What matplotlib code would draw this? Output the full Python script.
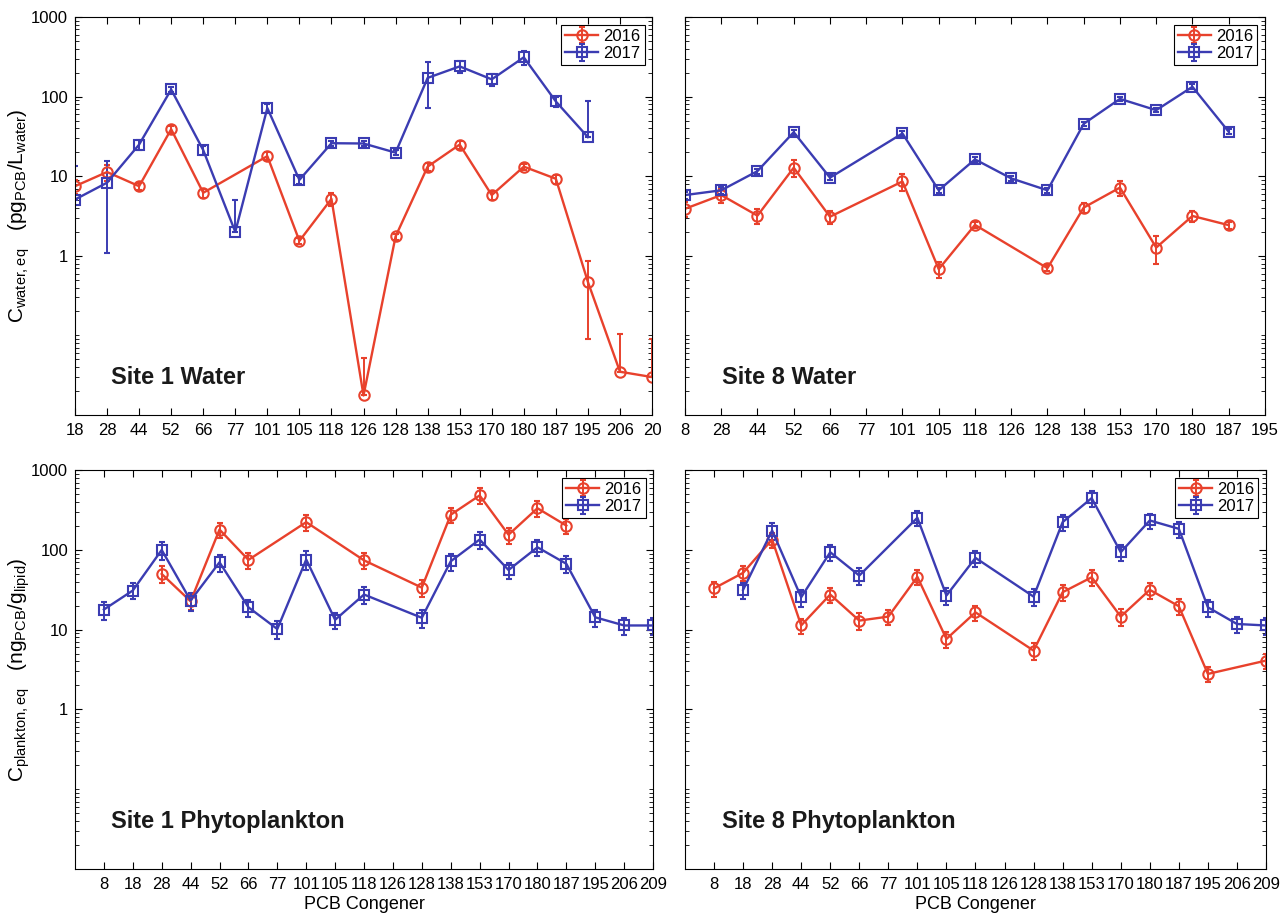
import numpy as np
import matplotlib
matplotlib.use('Agg')
import matplotlib.pyplot as plt
from matplotlib.ticker import FixedLocator, LogLocator, NullFormatter

plt.rcParams['font.family'] = ['Liberation Sans', 'DejaVu Sans']
plt.rcParams['mathtext.default'] = 'regular'

nan = np.nan
RED = '#E8412C'
BLUE = '#3B3CB2'

# --- water panels (pg PCB / L water) ---
water1_labels = ['18', '28', '44', '52', '66', '77', '101', '105', '118', '126',
                 '128', '138', '153', '170', '180', '187', '195', '206', '20']
water1_2016 = [7.5, 11.3, 7.5, 39, 6.2, nan, 17.9, 1.54, 5.2, 0.0176,
               1.75, 13.2, 25, 5.8, 13.2, 9.3, 0.47, 0.035, 0.030]
water1_2016_err = [1.5, 2.5, 0.8, 4, 0.8, nan, 2, 0.15, 1.0, 0.034,
                   0.15, 1.5, 3, 0.8, 1.2, 1.2, 0.38, 0.07, 0.06]
water1_2017 = [5.1, 8.3, 25, 123, 21.3, 2.0, 72, 9.0, 26, 25.8,
               19.8, 172, 240, 165, 312, 87, 31, nan, nan]
water1_2017_err = [8.3, 7.2, 3.5, 10, 3, 3.0, 10, 1, 2, 2,
                   1.5, 100, 40, 30, 60, 12, 56, nan, nan]

water8_labels = ['8', '28', '44', '52', '66', '77', '101', '105', '118', '126',
                 '128', '138', '153', '170', '180', '187', '195']
water8_2016 = [3.9, 5.8, 3.2, 12.8, 3.1, nan, 8.6, 0.68, 2.45, nan,
               0.70, 4.04, 7.2, 1.27, 3.17, 2.43, nan]
water8_2016_err = [0.8, 1.2, 0.7, 3, 0.6, nan, 2, 0.15, 0.2, nan,
                   0.06, 0.6, 1.5, 0.48, 0.5, 0.25, nan]
water8_2017 = [5.8, 6.66, 11.6, 35.8, 9.6, nan, 34.5, 6.66, 16.3, 9.4,
               6.66, 45.6, 93.8, 67.6, 133, 36.2, nan]
water8_2017_err = [0.6, 0.7, 0.8, 2.5, 0.7, nan, 2.2, 0.5, 1, 0.6,
                   0.5, 3, 6, 4, 10, 2.5, nan]

# --- phytoplankton panels (ng PCB / g lipid) ---
phyto_labels = ['8', '18', '28', '44', '52', '66', '77', '101', '105', '118',
                '126', '128', '138', '153', '170', '180', '187', '195', '206', '209']
phyto1_2016 = [nan, nan, 50, 22.7, 180, 75, nan, 223, nan, 74,
               nan, 33.7, 276, 482, 155, 333, 202, nan, nan, nan]
phyto1_2016_err = [nan, nan, 12, 5, 40, 17, nan, 50, nan, 17,
                   nan, 8, 60, 110, 35, 75, 45, nan, nan, nan]
phyto1_2017 = [17.9, 31, 100, 23.2, 70, 19.1, 10.2, 75.8, 13.3, 27.6,
               nan, 14.1, 72, 135, 56, 108, 67, 14.3, 11.3, 11.3]
phyto1_2017_err = [4.5, 7, 25, 6, 17, 4.5, 2.5, 20, 3, 6.5,
                   nan, 3.5, 17, 32, 13, 25, 16, 3.5, 2.7, 2.7]

phyto8_2016 = [33, 51.6, 135, 11.3, 27.6, 13, 14.6, 46, 7.66, 16.5,
               nan, 5.47, 29.5, 45.4, 14.6, 31.6, 19.7, 2.79, nan, 4.1]
phyto8_2016_err = [7, 11, 30, 2.5, 6, 3, 3, 10, 1.8, 3.5,
                   nan, 1.3, 6.5, 10, 3.5, 7, 4.5, 0.6, nan, 0.9]
phyto8_2017 = [nan, 31.6, 175, 25.5, 93.6, 47.7, nan, 253, 26.8, 79.5,
               nan, 26, 223, 446, 93.6, 234, 184, 19.1, 11.8, 11.3]
phyto8_2017_err = [nan, 7, 40, 6, 22, 11, nan, 55, 6.5, 18,
                   nan, 6, 50, 100, 22, 52, 42, 4.5, 2.7, 2.7]


def plot_series(ax, vals, errs, color, marker, label):
    x = np.arange(1, len(vals) + 1)
    v = np.array(vals, float)
    e = np.array(errs, float)
    ok = ~np.isnan(v)
    # like MATLAB on a log axis: a lower bar that would go below zero is not drawn
    lower = np.where(v - e > 0, e, 0)
    return ax.errorbar(x[ok], v[ok], yerr=[lower[ok], e[ok]], color=color,
                       marker=marker, mfc='none', ms=7.5, mew=1.5, lw=1.7,
                       capsize=2.5, elinewidth=1.4, capthick=1.4, label=label)


def setup_axes(ax, labels, xlim, show_y, title, title_y):
    ax.set_yscale('log')
    ax.set_ylim(0.01, 1000)
    ax.set_xlim(*xlim)
    ax.set_xticks(np.arange(1, len(labels) + 1))
    ax.set_xticklabels(labels)
    ax.yaxis.set_major_locator(FixedLocator([1, 10, 100, 1000]))
    ax.yaxis.set_minor_locator(LogLocator(base=10, subs=np.arange(1, 10), numticks=30))
    ax.yaxis.set_minor_formatter(NullFormatter())
    if show_y:
        ax.set_yticklabels(['1', '10', '100', '1000'])
    else:
        ax.tick_params(labelleft=False)
    ax.tick_params(which='both', direction='in', top=True, right=True)
    ax.tick_params(which='major', length=5, width=0.8, labelsize=12)
    ax.tick_params(axis='x', pad=6)
    ax.tick_params(axis='y', pad=5)
    ax.tick_params(which='minor', length=3, width=0.6)
    for s in ax.spines.values():
        s.set_linewidth(0.8)
    ax.text(0.063, title_y, title, transform=ax.transAxes, fontsize=17,
            fontweight='bold', va='center', color='#1a1a1a')
    leg = ax.legend(loc='upper right', fontsize=12, fancybox=False, edgecolor='black',
                    framealpha=1, borderpad=0.25, labelspacing=0.15, handlelength=2.0,
                    handletextpad=0.3, borderaxespad=0.45)
    leg.get_frame().set_linewidth(0.8)


fig = plt.figure(figsize=(12.82, 9.17), dpi=100)
ax_tl = fig.add_axes([0.0585, 0.5474, 0.4501, 0.434])
ax_tr = fig.add_axes([0.5343, 0.5474, 0.4524, 0.434])
ax_bl = fig.add_axes([0.0585, 0.0523, 0.4509, 0.435])
ax_br = fig.add_axes([0.5343, 0.0523, 0.4532, 0.435])

plot_series(ax_tl, water1_2016, water1_2016_err, RED, 'o', '2016')
plot_series(ax_tl, water1_2017, water1_2017_err, BLUE, 's', '2017')
setup_axes(ax_tl, water1_labels, (1, 19), True, 'Site 1 Water', 0.095)

plot_series(ax_tr, water8_2016, water8_2016_err, RED, 'o', '2016')
plot_series(ax_tr, water8_2017, water8_2017_err, BLUE, 's', '2017')
setup_axes(ax_tr, water8_labels, (1, 17), False, 'Site 8 Water', 0.095)

plot_series(ax_bl, phyto1_2016, phyto1_2016_err, RED, 'o', '2016')
plot_series(ax_bl, phyto1_2017, phyto1_2017_err, BLUE, 's', '2017')
setup_axes(ax_bl, phyto_labels, (0, 20), True, 'Site 1 Phytoplankton', 0.12)

plot_series(ax_br, phyto8_2016, phyto8_2016_err, RED, 'o', '2016')
plot_series(ax_br, phyto8_2017, phyto8_2017_err, BLUE, 's', '2017')
setup_axes(ax_br, phyto_labels, (0, 20), False, 'Site 8 Phytoplankton', 0.12)

ax_tl.set_ylabel(r'$C_{water,eq}$   (pg$_{PCB}$/L$_{water}$)', fontsize=15)
ax_tl.yaxis.set_label_coords(-0.074, 0.5)
ax_bl.set_ylabel(r'$C_{plankton,eq}$   (ng$_{PCB}$/g$_{lipid}$)', fontsize=15)
ax_bl.yaxis.set_label_coords(-0.074, 0.5)

for ax in (ax_bl, ax_br):
    ax.set_xlabel('PCB Congener', fontsize=13)
    ax.xaxis.set_label_coords(0.5, -0.067)

fig.savefig('out.png', dpi=100)
